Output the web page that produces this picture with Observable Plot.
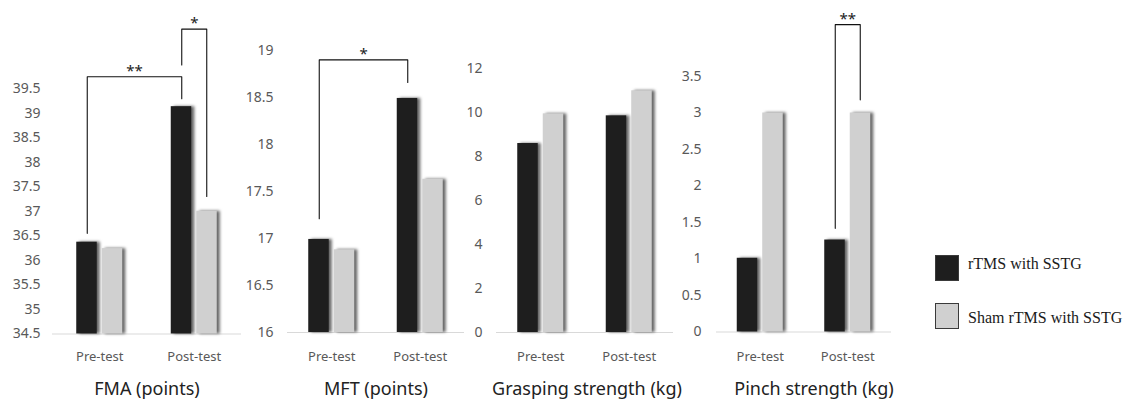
<!DOCTYPE html>
<html>
<head>
<meta charset="utf-8">
<script src="https://cdn.jsdelivr.net/npm/d3@7"></script>
<script src="https://cdn.jsdelivr.net/npm/@observablehq/plot@0.6"></script>
<style>
  body { margin: 0; background: #fff; }
  #chart { position: relative; width: 1130px; height: 403px; overflow: hidden; background: #fff; }
  .panel { position: absolute; top: 0; }
  .panel svg { overflow: visible; background: transparent !important; }
  .panel g[aria-label="rect"] rect { filter: drop-shadow(3px 0px 1.5px rgba(0,0,0,0.6)); }
  .legend-item { position: absolute; left: 935px; height: 26px; }
  .swatch { position: absolute; left: 0; top: 0; width: 24px; height: 26px; box-sizing: border-box; border: 1px solid #3a3a3a; }
  .legend-label { position: absolute; left: 33px; white-space: nowrap; font-family: "Liberation Serif", "Times New Roman", serif; font-size: 16px; line-height: 16px; color: #1a1a1a; }
</style>
</head>
<body>
<div id="chart"></div>
<script>
// ---------- data ----------
const categories = ["Pre-test", "Post-test"];
const series = ["rTMS with SSTG", "Sham rTMS with SSTG"];
const seriesColors = ["#1e1e1e", "#d0d0d0"];

const fmaRTMS = [36.37, 39.13];
const fmaSham = [36.24, 37.0];
const mftRTMS = [16.99, 18.49];
const mftSham = [16.88, 17.63];
const graspRTMS = [8.6, 9.86];
const graspSham = [9.95, 11.0];
const pinchRTMS = [1.01, 1.26];
const pinchSham = [3.0, 3.0];

const fmaTicks = [34.5, 35, 35.5, 36, 36.5, 37, 37.5, 38, 38.5, 39, 39.5];
const mftTicks = [16, 16.5, 17, 17.5, 18, 18.5, 19];
const graspTicks = [0, 2, 4, 6, 8, 10, 12];
const pinchTicks = [0, 0.5, 1, 1.5, 2, 2.5, 3, 3.5];

const titles = ["FMA (points)", "MFT (points)", "Grasping strength (kg)", "Pinch strength (kg)"];

// significance brackets: [category, series] ends, with heights in data units
const fmaBrackets = [
  {from: ["Pre-test", "rTMS with SSTG"], to: ["Post-test", "rTMS with SSTG"], y1: 36.55, top: 39.74, y2: 39.29, label: "**"},
  {from: ["Post-test", "rTMS with SSTG"], to: ["Post-test", "Sham rTMS with SSTG"], y1: 39.98, top: 40.71, y2: 37.3, label: "*"}
];
const mftBrackets = [
  {from: ["Pre-test", "rTMS with SSTG"], to: ["Post-test", "rTMS with SSTG"], y1: 17.21, top: 18.90, y2: 18.66, label: "*"}
];
const graspBrackets = [];
const pinchBrackets = [
  {from: ["Post-test", "rTMS with SSTG"], to: ["Post-test", "Sham rTMS with SSTG"], y1: 1.42, top: 4.21, y2: 3.18, label: "**"}
];

// ---------- layout ----------
const panels = [
  {left: 0,   frameW: 189, marginTop: 88,   base: 333.5, domain: [34.5, 39.5], ticks: fmaTicks,   values: [fmaRTMS, fmaSham],     brackets: fmaBrackets,   title: titles[0], pad: 12, titleDx: 0},
  {left: 235, frameW: 177, marginTop: 50,   base: 332,   domain: [16, 19],     ticks: mftTicks,   values: [mftRTMS, mftSham],     brackets: mftBrackets,   title: titles[1], pad: 14, titleDx: 0},
  {left: 444, frameW: 177, marginTop: 68.3, base: 332,   domain: [0, 12],      ticks: graspTicks, values: [graspRTMS, graspSham], brackets: graspBrackets, title: titles[2], pad: 14, titleDx: 2},
  {left: 664, frameW: 175, marginTop: 76,   base: 331.5, domain: [0, 3.5],     ticks: pinchTicks, values: [pinchRTMS, pinchSham], brackets: pinchBrackets, title: titles[3], pad: 15, titleDx: 10}
];
const MARGIN_LEFT = 52, MARGIN_RIGHT = 4, H = 403;
const barPx = [[-23, -2.5], [2.5, 23]];   // bar extent around category centre, px
const markPx = [-12.5, 12.5];              // bracket anchor around category centre, px

const chart = document.getElementById("chart");

function makePanel(p) {
  const half = p.frameW / 2;
  const u = px => px / half;
  const ci = c => categories.indexOf(c);
  const si = s => series.indexOf(s);
  const anchorX = (c, s) => ci(c) + 0.5 + u(markPx[si(s)]);

  const barMarks = series.map((s, k) =>
    Plot.rectY(categories.map((c, i) => ({cat: c, i, v: p.values[k][i]})), {
      x1: d => d.i + 0.5 + u(barPx[k][0]),
      x2: d => d.i + 0.5 + u(barPx[k][1]),
      y1: () => p.domain[0],
      y2: "v",
      fill: seriesColors[k]
    })
  );

  const pts = [];
  const labs = [];
  p.brackets.forEach((b, k) => {
    const xa = anchorX(b.from[0], b.from[1]);
    const xb = anchorX(b.to[0], b.to[1]);
    pts.push({k, x: xa, y: b.y1}, {k, x: xa, y: b.top}, {k, x: xb, y: b.top}, {k, x: xb, y: b.y2});
    labs.push({x: (xa + xb) / 2, y: b.top, label: b.label});
  });

  const marginBottom = H - p.base;
  const svg = Plot.plot({
    width: MARGIN_LEFT + p.frameW + MARGIN_RIGHT,
    height: H,
    marginLeft: MARGIN_LEFT,
    marginRight: MARGIN_RIGHT,
    marginTop: p.marginTop,
    marginBottom: marginBottom,
    x: {domain: [0, 2], axis: null},
    y: {domain: p.domain, axis: null},
    style: {fontFamily: "'Noto Sans', 'Open Sans', sans-serif", background: "transparent", overflow: "visible"},
    marks: [
      Plot.ruleY([p.domain[0]], {stroke: "#d9d9d9", strokeWidth: 1}),
      ...barMarks,
      Plot.axisY({ticks: p.ticks, tickSize: 0, tickPadding: p.pad, tickFormat: d => String(d), fill: "#595959", fontSize: 14, label: null}),
      Plot.axisX({ticks: [0.5, 1.5], tickSize: 0, tickPadding: 351 - p.base, tickFormat: d => categories[Math.round(d - 0.5)], fill: "#595959", fontSize: 13, label: null}),
      Plot.line(pts, {x: "x", y: "y", z: "k", stroke: "#111", strokeWidth: 1.1}),
      Plot.text(labs, {x: "x", y: "y", text: "label", lineAnchor: "bottom", dy: -1, fontSize: 15, fill: "#222"}),
      Plot.text([p.title], {frameAnchor: "bottom", lineAnchor: "top", dy: 382 - p.base, dx: p.titleDx, fontSize: 18, fill: "#222"})
    ]
  });
  const wrap = document.createElement("div");
  wrap.className = "panel";
  wrap.style.left = p.left + "px";
  wrap.appendChild(svg);
  chart.appendChild(wrap);
}
panels.forEach(makePanel);

// ---------- legend ----------
const legendTops = [255, 303];
const legendTextOffsets = [1, 7];
series.forEach((s, k) => {
  const item = document.createElement("div");
  item.className = "legend-item";
  item.style.top = legendTops[k] + "px";
  const sw = document.createElement("div");
  sw.className = "swatch";
  sw.style.background = seriesColors[k];
  const lab = document.createElement("div");
  lab.className = "legend-label";
  lab.style.top = legendTextOffsets[k] + "px";
  lab.textContent = s;
  item.appendChild(sw);
  item.appendChild(lab);
  chart.appendChild(item);
});
</script>
</body>
</html>
